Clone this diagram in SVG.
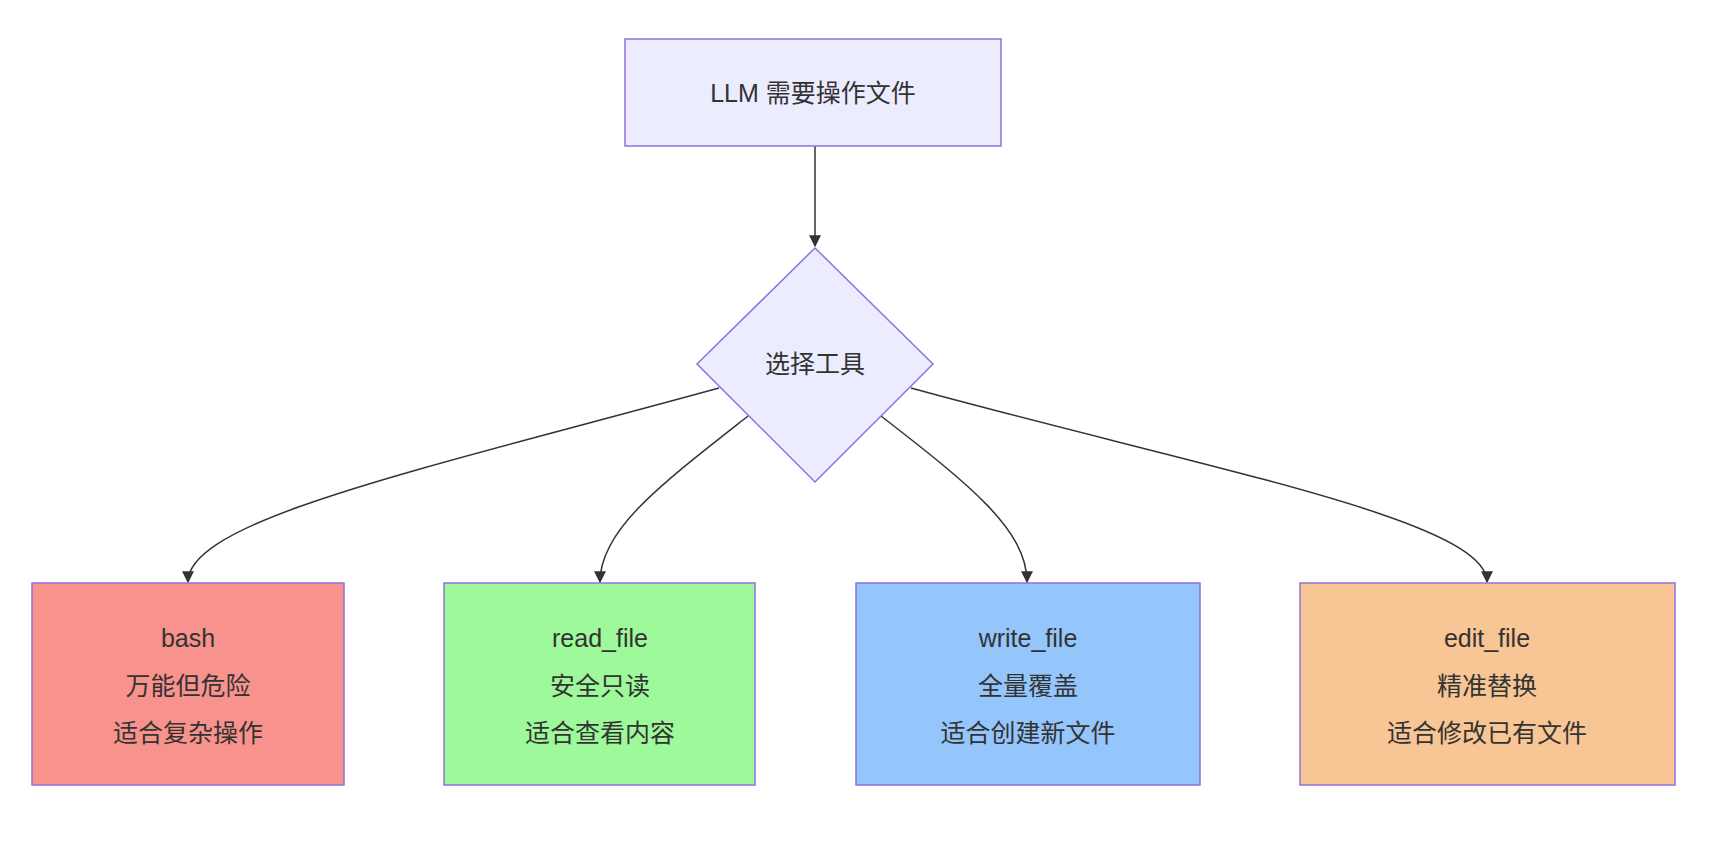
<svg xmlns="http://www.w3.org/2000/svg" width="1710" height="844" viewBox="0 0 1710 844">
<style>
text{font-family:"Liberation Sans","Noto Sans CJK SC",sans-serif;font-size:25px;fill:#333;text-anchor:middle}
.n{stroke:#9370DB;stroke-width:1.5}
.e{fill:none;stroke:#333;stroke-width:1.5;marker-end:url(#a)}
</style>
<defs><marker id="a" viewBox="0 0 10 10" refX="9" refY="5" markerWidth="8" markerHeight="8" orient="auto"><path d="M0,0L10,5L0,10z" fill="#333"/></marker></defs>
<rect width="1710" height="844" fill="#fff"/>
<g id="edges">
<path class="e" d="M815,146L815,246"/>
<path class="e" d="M719,388C420,470 188,520 188,582"/>
<path class="e" d="M748,416C660,485 600,530 600,582"/>
<path class="e" d="M881,416C970,485 1027,530 1027,582"/>
<path class="e" d="M911,388C1210,470 1487,520 1487,582"/>
</g>
<g id="top"><rect class="n" x="625" y="39" width="376" height="107" fill="#ECECFF"/><text x="813" y="102">LLM 需要操作文件</text></g>
<g id="choose"><polygon class="n" points="815,248 933,364 815,482 697,364" fill="#ECECFF"/><text x="815" y="373">选择工具</text></g>
<g id="bash"><rect class="n" x="32" y="583" width="312" height="202" fill="#F8928D"/><text x="188" y="647">bash</text><text x="188" y="695">万能但危险</text><text x="188" y="742">适合复杂操作</text></g>
<g id="read"><rect class="n" x="444" y="583" width="311" height="202" fill="#9EF99A"/><text x="600" y="647">read_file</text><text x="600" y="695">安全只读</text><text x="600" y="742">适合查看内容</text></g>
<g id="write"><rect class="n" x="856" y="583" width="344" height="202" fill="#94C5FB"/><text x="1028" y="647">write_file</text><text x="1028" y="695">全量覆盖</text><text x="1028" y="742">适合创建新文件</text></g>
<g id="edit"><rect class="n" x="1300" y="583" width="375" height="202" fill="#F8C594"/><text x="1487" y="647">edit_file</text><text x="1487" y="695">精准替换</text><text x="1487" y="742">适合修改已有文件</text></g>
</svg>
